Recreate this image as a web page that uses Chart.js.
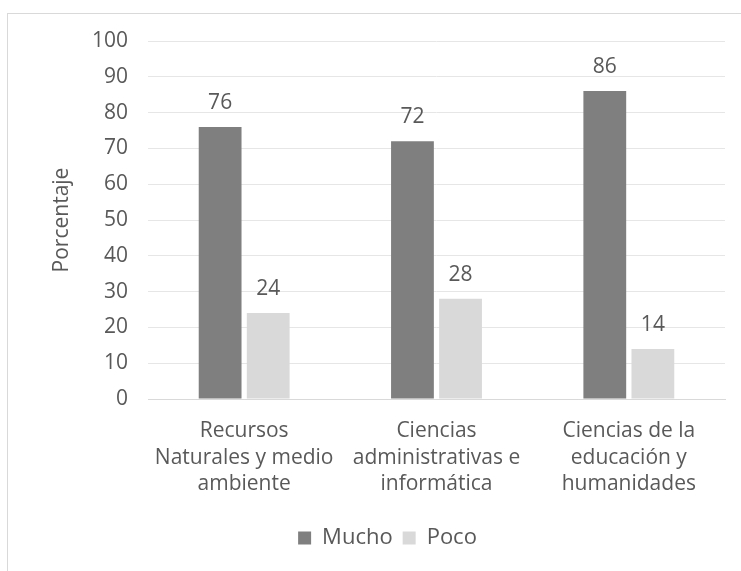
<!DOCTYPE html>
<html><head><meta charset="utf-8">
<script src="https://cdn.jsdelivr.net/npm/chart.js@4"></script>
<style>
html,body{margin:0;padding:0;background:#fff;width:741px;height:571px;overflow:hidden;}
#frame{position:absolute;left:7px;top:13px;width:770px;height:580px;border-left:1px solid #d9d9d9;border-top:1px solid #d9d9d9;background:#fff;}
#wrap{position:absolute;left:0;top:0;width:759px;height:560px;}
</style></head>
<body>
<div id="frame"><div id="wrap"><canvas id="c"></canvas></div></div>
<script>
const categories = [
  ["Recursos", "Naturales y medio", "ambiente"],
  ["Ciencias", "administrativas e", "informática"],
  ["Ciencias de la", "educación y", "humanidades"]
];
const seriesNames = ["Mucho", "Poco"];
const mucho = [76, 72, 86];
const poco = [24, 28, 14];
const yTicks = [0,10,20,30,40,50,60,70,80,90,100];

const FONT = "'Open Sans'";
const TXT = "#595959";
const FS = 21;

const labelPlugin = {
  id: "barLabels",
  afterDatasetsDraw(chart) {
    const ctx = chart.ctx;
    ctx.save();
    ctx.font = FS + "px " + FONT;
    ctx.fillStyle = TXT;
    ctx.textAlign = "center";
    ctx.textBaseline = "alphabetic";
    chart.data.datasets.forEach((ds, i) => {
      const meta = chart.getDatasetMeta(i);
      meta.data.forEach((bar, j) => {
        ctx.fillText(String(ds.data[j]), bar.x, bar.y - 18);
      });
    });
    ctx.restore();
  }
};

new Chart(document.getElementById("c"), {
  type: "bar",
  data: {
    labels: categories,
    datasets: [
      { label: seriesNames[0], data: mucho, backgroundColor: "#7f7f7f", categoryPercentage: 0.5, barPercentage: 0.89 },
      { label: seriesNames[1], data: poco, backgroundColor: "#d9d9d9", categoryPercentage: 0.5, barPercentage: 0.89 }
    ]
  },
  options: {
    responsive: true,
    maintainAspectRatio: false,
    animation: false,
    layout: { padding: { left: 0, right: 0, top: 27, bottom: 15 } },
    scales: {
      y: {
        min: 0, max: 100,
        afterBuildTicks(scale) { scale.ticks = yTicks.map(v => ({ value: v })); },
        afterFit(scale) { scale.width = 140; scale.paddingTop = 0; scale.paddingBottom = 0; },
        grid: { color: "#e6e6e6", drawTicks: false, lineWidth: 1 },
        border: { display: false },
        ticks: { color: TXT, padding: 20, font: { family: FONT, size: FS } },
        title: { display: true, text: "Porcentaje", color: TXT, font: { family: FONT, size: FS }, padding: { top: 41, bottom: 0 } }
      },
      yRight: {
        position: "right",
        min: 0, max: 100,
        afterFit(scale) { scale.width = 42; },
        grid: { display: false, drawTicks: false },
        border: { display: false },
        ticks: { display: false }
      },
      x: {
        afterFit(scale) { scale.height = 118; },
        grid: { display: false, drawTicks: false },
        border: { color: "#d9d9d9" },
        ticks: { color: TXT, padding: 19, maxRotation: 0, autoSkip: false, font: { family: FONT, size: FS, lineHeight: 1.26 } }
      }
    },
    plugins: {
      legend: {
        position: "bottom",
        labels: { color: TXT, boxWidth: 13, boxHeight: 13, padding: 10, font: { family: FONT, size: 22 } }
      },
      tooltip: { enabled: false }
    }
  },
  plugins: [labelPlugin]
});
</script>
</body></html>
